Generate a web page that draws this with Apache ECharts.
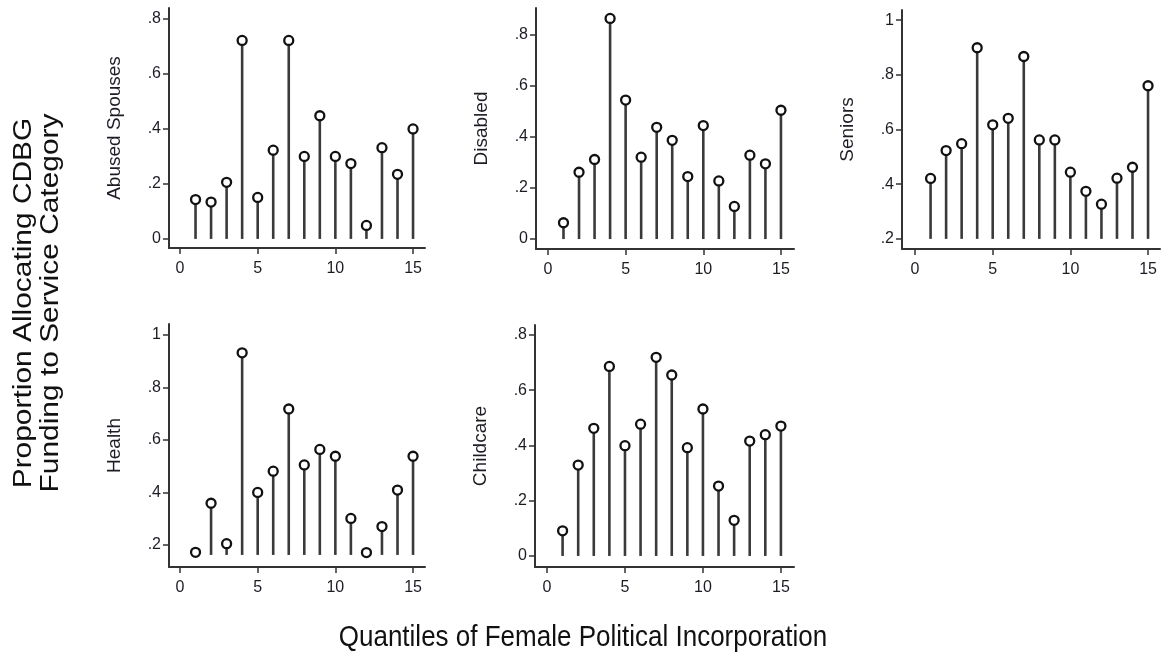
<!DOCTYPE html>
<html>
<head>
<meta charset="utf-8">
<title>CDBG funding by quantile of female political incorporation</title>
<script src="https://cdn.jsdelivr.net/npm/echarts@6/dist/echarts.min.js"></script>
<style>
  html, body { margin: 0; padding: 0; background: #fff; }
  #chart { width: 1164px; height: 658px; }
</style>
</head>
<body>
<div id="chart"></div>
<script>
// Quantile index on the horizontal axis
const quantiles = [1, 2, 3, 4, 5, 6, 7, 8, 9, 10, 11, 12, 13, 14, 15];

// Proportion allocating CDBG funding, one array per service category
const abusedSpouses = [0.143, 0.134, 0.206, 0.722, 0.151, 0.323, 0.722, 0.300, 0.448, 0.300, 0.274, 0.049, 0.332, 0.235, 0.400];
const disabled      = [0.064, 0.262, 0.312, 0.865, 0.545, 0.321, 0.438, 0.387, 0.245, 0.445, 0.228, 0.128, 0.329, 0.295, 0.505];
const seniors       = [0.421, 0.523, 0.548, 0.899, 0.617, 0.641, 0.867, 0.562, 0.562, 0.444, 0.374, 0.327, 0.422, 0.462, 0.760];
const health        = [0.172, 0.359, 0.205, 0.932, 0.400, 0.481, 0.718, 0.505, 0.564, 0.538, 0.301, 0.171, 0.270, 0.409, 0.538];
const childcare     = [0.091, 0.329, 0.462, 0.686, 0.399, 0.477, 0.719, 0.655, 0.392, 0.532, 0.253, 0.129, 0.416, 0.439, 0.470];

// Tick values
const xTicks = [0, 5, 10, 15];
const yTicksLow = [0, 0.2, 0.4, 0.6, 0.8];
const yTicksHigh = [0.2, 0.4, 0.6, 0.8, 1];

const FONT = '"Liberation Sans", Arial, Helvetica, sans-serif';
const INK = '#1c1c24';

// Panel layout: grid box in pixels, axis ranges, stem base value
const panels = [
  { name: 'Abused Spouses', data: abusedSpouses, yTicks: yTicksLow,
    box: [169, 8, 425, 248], x: [-0.708, 15.77], y: [-0.033, 0.84], base: 0 },
  { name: 'Disabled', data: disabled, yTicks: yTicksLow,
    box: [536, 8, 794, 249], x: [-0.77, 15.84], y: [-0.039, 0.906], base: 0 },
  { name: 'Seniors', data: seniors, yTicks: yTicksHigh,
    box: [902, 10, 1160, 249], x: [-0.84, 15.77], y: [0.163, 1.037], base: 0.2 },
  { name: 'Health', data: health, yTicks: yTicksHigh,
    box: [169, 324, 425, 567], x: [-0.708, 15.77], y: [0.116, 1.042], base: 0.162 },
  { name: 'Childcare', data: childcare, yTicks: yTicksLow,
    box: [535, 325, 794, 567], x: [-0.77, 15.84], y: [-0.04, 0.836], base: 0 }
];

const fmtY = v => {
  const s = String(Math.round(v * 10) / 10);
  return s.replace(/^0\./, '.');
};

const grid = [], xAxis = [], yAxis = [], series = [];

panels.forEach((p, i) => {
  const [l, t, r, b] = p.box;
  grid.push({ left: l, top: t, width: r - l, height: b - t, containLabel: false, outerBoundsMode: 'none' });

  const axisLine = { show: true, onZero: false, lineStyle: { color: '#333', width: 2 } };
  xAxis.push({
    type: 'value', gridIndex: i, min: p.x[0], max: p.x[1],
    axisLine,
    axisTick: { show: true, customValues: xTicks, length: 6, lineStyle: { color: '#333', width: 1.5 } },
    axisLabel: { customValues: xTicks, margin: 13, fontSize: 16, fontFamily: FONT, color: INK },
    splitLine: { show: false }
  });
  yAxis.push({
    type: 'value', gridIndex: i, min: p.y[0], max: p.y[1],
    name: p.name, nameLocation: 'middle', nameGap: 45, nameRotate: 90,
    nameTextStyle: { fontSize: 19, fontFamily: FONT, color: INK },
    axisLine,
    axisTick: { show: true, customValues: p.yTicks, length: 6, lineStyle: { color: '#333', width: 1.5 } },
    axisLabel: { customValues: p.yTicks, margin: 8, fontSize: 16, fontFamily: FONT, color: INK, formatter: fmtY },
    splitLine: { show: false }
  });

  const points = quantiles.map((q, k) => [q, p.data[k]]);
  const base = p.base;

  // Drop lines from the base value up to each point
  series.push({
    type: 'custom', xAxisIndex: i, yAxisIndex: i, data: points, silent: true,
    renderItem: (params, api) => {
      const from = api.coord([api.value(0), base]);
      const to = api.coord([api.value(0), api.value(1)]);
      return {
        type: 'line',
        shape: { x1: from[0], y1: from[1], x2: to[0], y2: to[1] },
        style: { stroke: '#3a3a3a', lineWidth: 2.6 }
      };
    }
  });
  // Hollow circle markers
  series.push({
    type: 'scatter', xAxisIndex: i, yAxisIndex: i, data: points, silent: true,
    symbol: 'circle', symbolSize: 9, z: 5,
    itemStyle: { color: '#fff', borderColor: '#111', borderWidth: 2.3, opacity: 1 }
  });
});

const chart = echarts.init(document.getElementById('chart'), null, { renderer: 'canvas' });
chart.setOption({
  animation: false,
  backgroundColor: '#fff',
  grid, xAxis, yAxis, series,
  graphic: [
    { type: 'text', x: 24, y: 303, rotation: Math.PI / 2, scaleX: 1.15, silent: true,
      style: { text: 'Proportion Allocating CDBG', font: '26px ' + FONT, fill: '#111',
               align: 'center', verticalAlign: 'middle', textAlign: 'center', textVerticalAlign: 'middle' } },
    { type: 'text', x: 51, y: 303, rotation: Math.PI / 2, scaleX: 1.15, silent: true,
      style: { text: 'Funding to Service Category', font: '26px ' + FONT, fill: '#111',
               align: 'center', verticalAlign: 'middle', textAlign: 'center', textVerticalAlign: 'middle' } },
    { type: 'text', x: 583, y: 638, scaleY: 1.15, silent: true,
      style: { text: 'Quantiles of Female Political Incorporation', font: '26px ' + FONT, fill: '#111',
               align: 'center', verticalAlign: 'middle', textAlign: 'center', textVerticalAlign: 'middle' } }
  ]
});
</script>
</body>
</html>
